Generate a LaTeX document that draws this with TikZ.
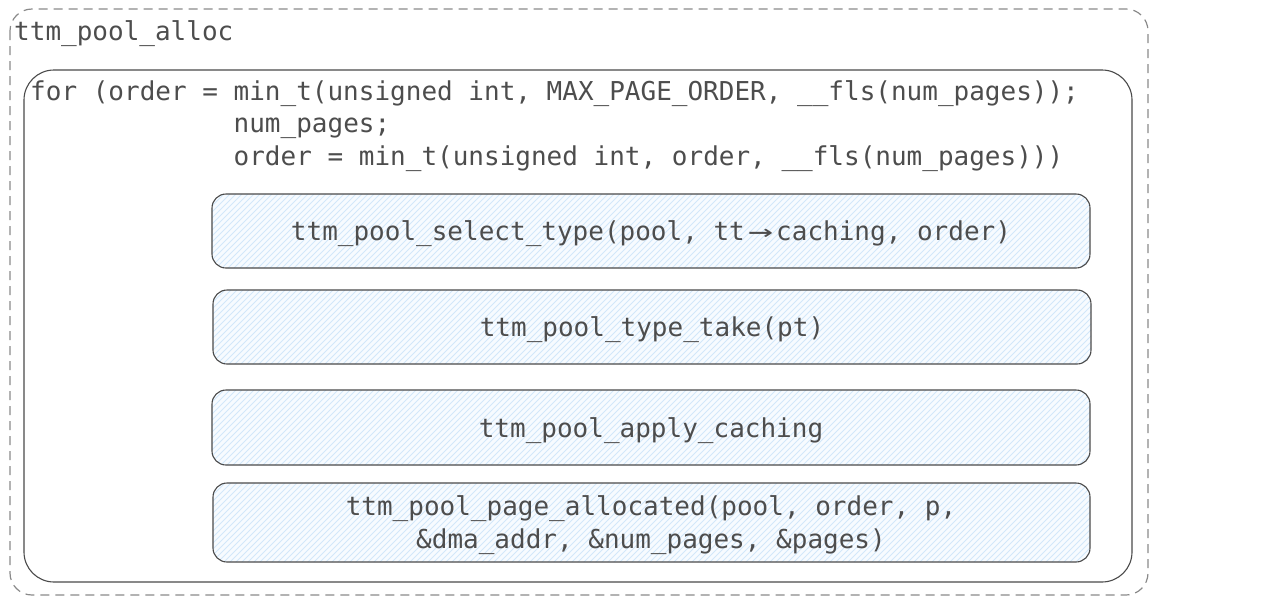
\documentclass[tikz,border=0pt]{standalone}
\usepackage{fontspec}
\setmonofont{DejaVu Sans Mono}
\definecolor{txt}{HTML}{4D4D4D}
\definecolor{edge}{HTML}{4A4A4A}
\definecolor{dashc}{HTML}{8A8A8A}
\definecolor{hatch}{HTML}{D2E7FA}
\definecolor{hfill}{HTML}{F7FBFF}
\tikzset{
  codetext/.style={text=txt,font=\fontsize{26}{32.5}\selectfont\ttfamily,inner sep=0pt},
  stepbox/.style={draw=edge,line width=1.1pt,rounded corners=14pt},
  hatchline/.style={draw=hatch,line width=0.8pt},
}
\newcommand{\ligarrow}{\makebox[1.204em]{\scalebox{1.6}[1.0]{→}}}
% hatched rounded box: x1,y1,x2,y2
\newcommand{\stepfill}[4]{%
  \begin{scope}
    \clip[rounded corners=14pt] (#1,#2) rectangle (#3,#4);
    \fill[hfill] (#1,#2) rectangle (#3,#4);
    \pgfmathsetmacro{\hh}{#4-#2}
    \pgfmathsetmacro{\ww}{#3-#1+\hh}
    \foreach \i in {0,6,...,\ww} {
      \draw[hatchline] ({#1+\i-\hh},#4) -- ++(\hh,-\hh);
    }
  \end{scope}
  \path[stepbox] (#1,#2) rectangle (#3,#4);
}
\begin{document}
\begin{tikzpicture}[x=1pt,y=-1pt]
\useasboundingbox (0,0) rectangle (1280,603);
% outer dashed frame
\draw[dashc,line width=1.2pt,dash pattern=on 9pt off 6pt,rounded corners=22pt] (10,9) rectangle (1148,595);
\node[codetext,anchor=base west] (title) at (14,40) {ttm\_pool\_alloc};
% inner loop frame
\draw[edge,line width=1.1pt,rounded corners=30pt] (24,70) rectangle (1132,582);
\node[codetext,anchor=north west,align=left] (loop) at (30,80)
 {for (order = min\_t(unsigned int, MAX\_PAGE\_ORDER, \_\_fls(num\_pages));\\
  \phantom{for (order = }num\_pages;\\
  \phantom{for (order = }order = min\_t(unsigned int, order, \_\_fls(num\_pages)))};
% steps
\stepfill{212}{194}{1090}{268}
\node[codetext] (s1) at (651,234) {ttm\_pool\_select\_type(pool, tt\ligarrow caching, order)};
\stepfill{213}{290}{1091}{364}
\node[codetext] (s2) at (652,330) {ttm\_pool\_type\_take(pt)};
\stepfill{212}{390}{1090}{465}
\node[codetext] (s3) at (651,431) {ttm\_pool\_apply\_caching};
\stepfill{213}{483}{1090}{562}
\node[codetext,align=center] (s4) at (651,525) {ttm\_pool\_page\_allocated(pool, order, p,\\\&dma\_addr, \&num\_pages, \&pages)};
\end{tikzpicture}
\end{document}
